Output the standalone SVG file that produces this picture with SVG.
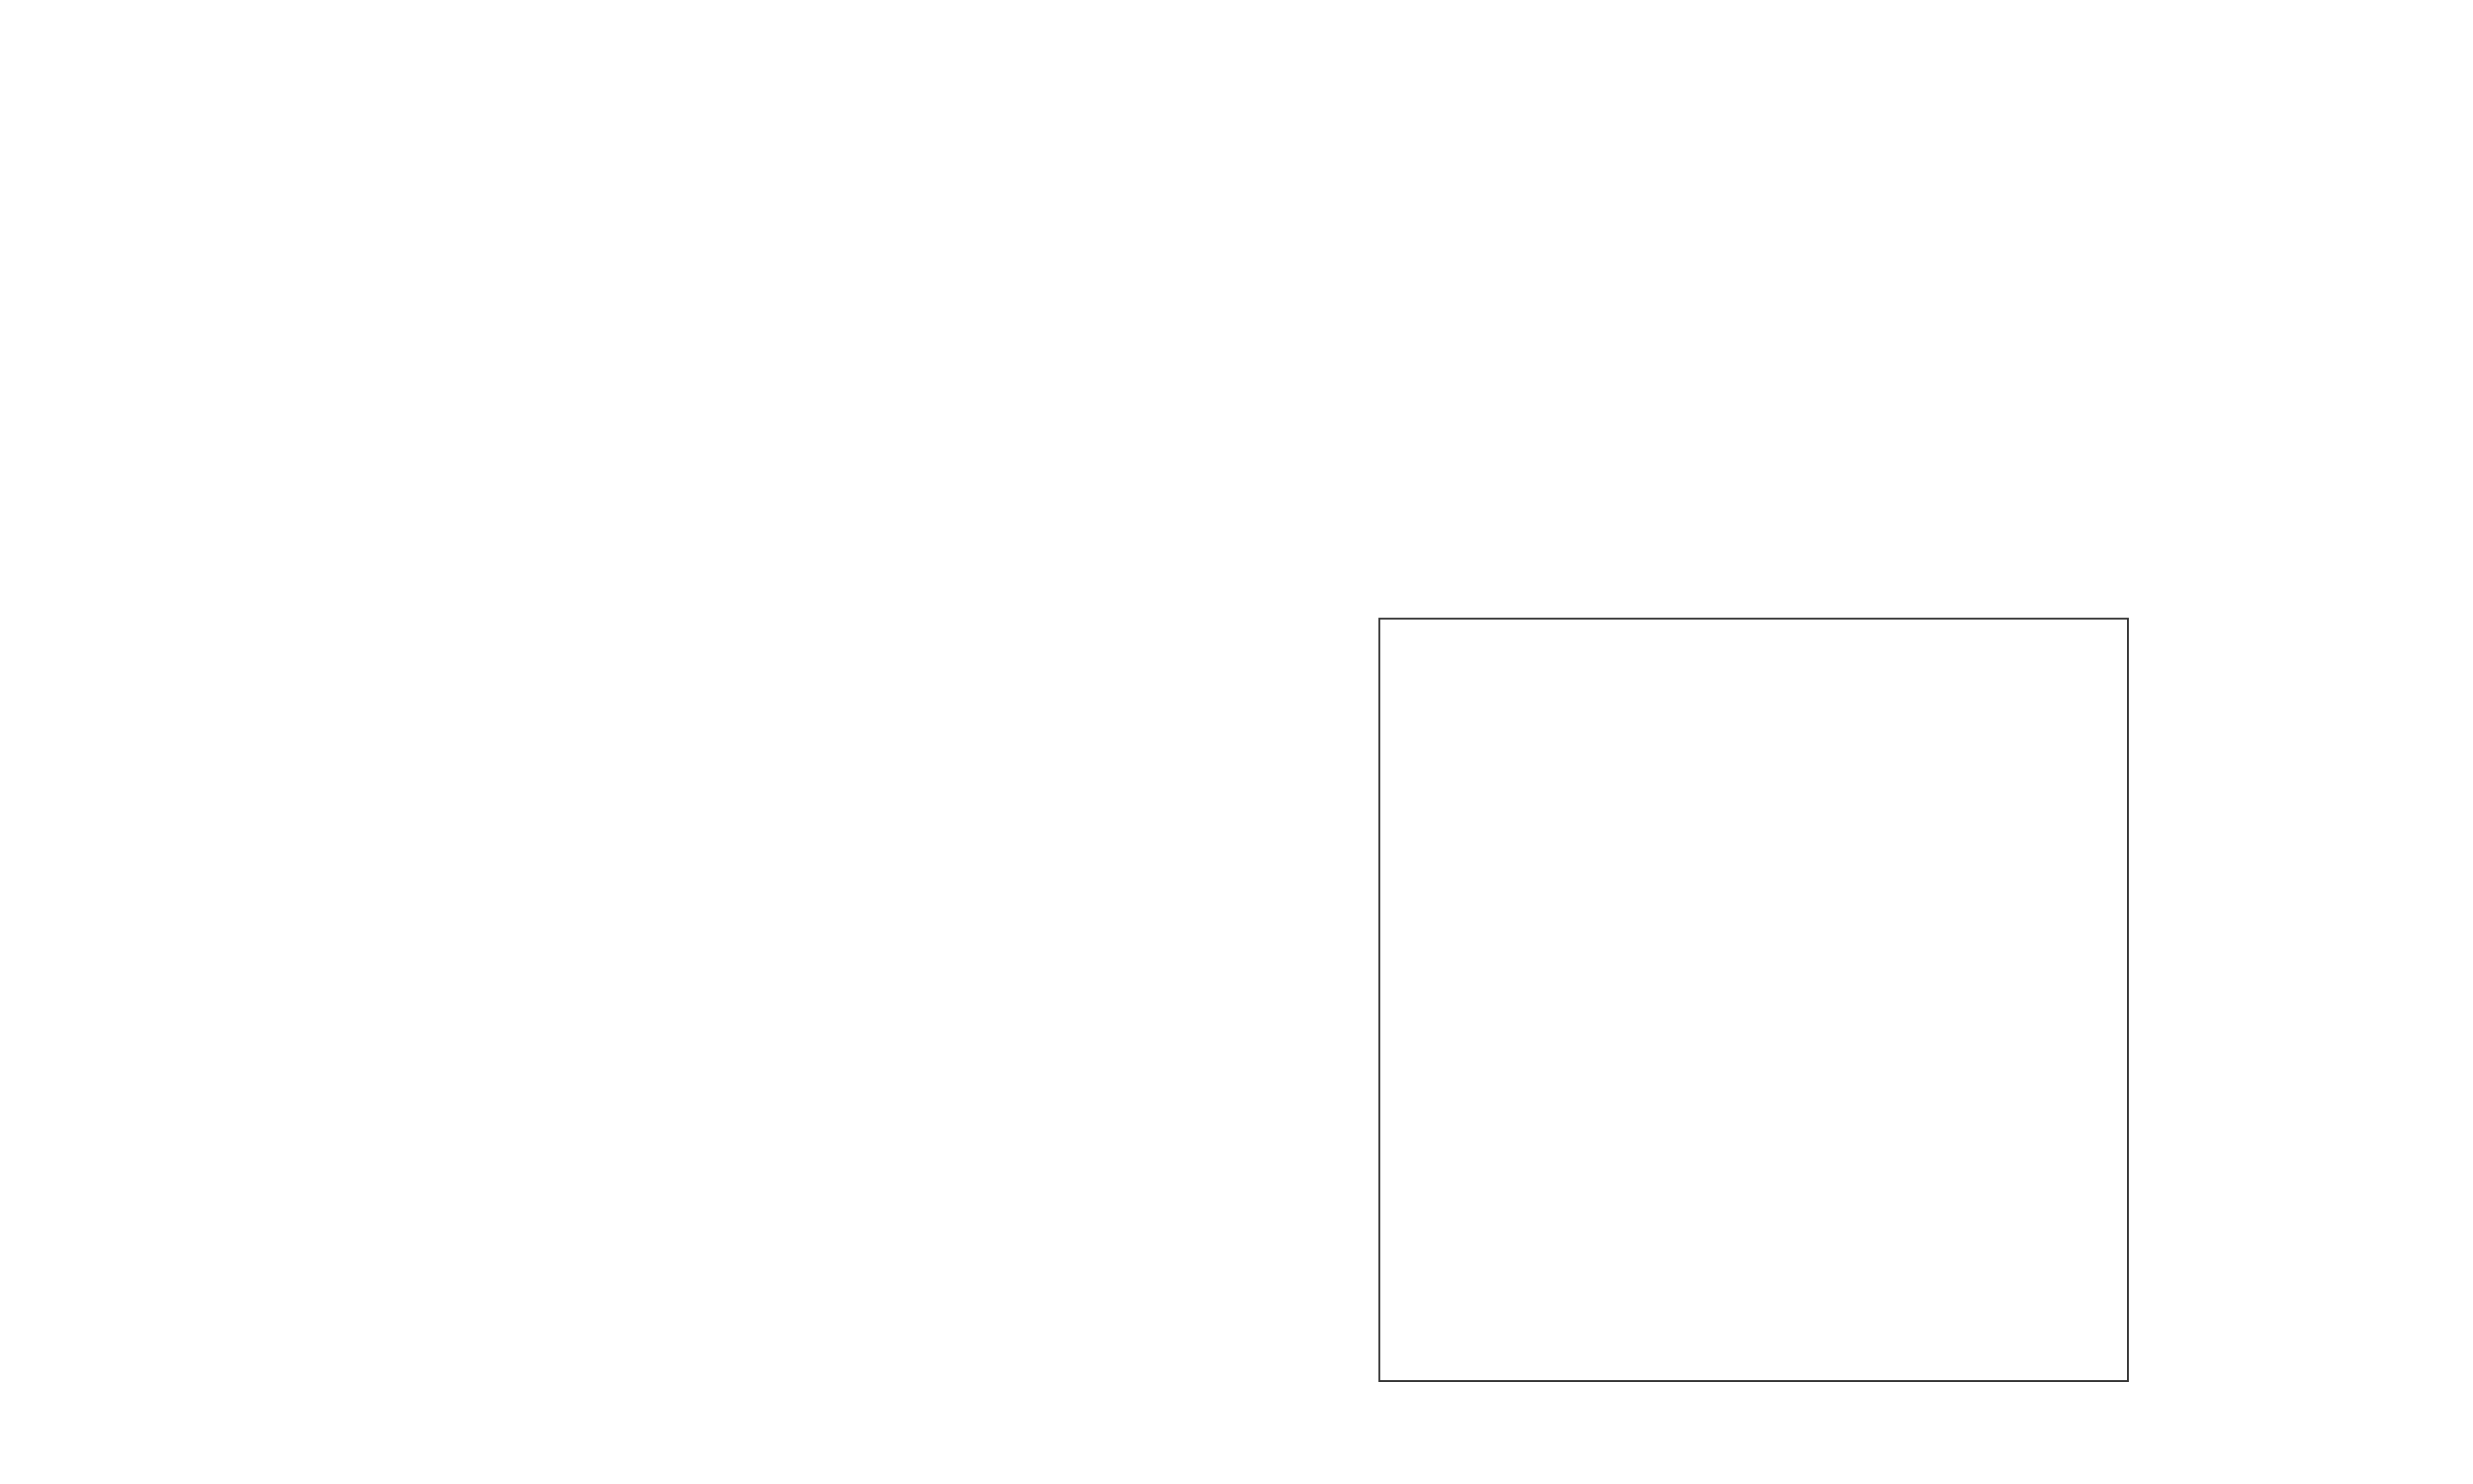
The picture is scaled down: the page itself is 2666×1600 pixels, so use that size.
<svg xmlns="http://www.w3.org/2000/svg" width="2666" height="1600" viewBox="0 0 2666 1600"><style>.box{fill:#fff;stroke:#333;stroke-width:2}</style><rect width="2666" height="1600" fill="#fff"/><g id="node1"><rect class="box" x="1487" y="667" width="807" height="822"/></g><g id="connectors"/></svg>
